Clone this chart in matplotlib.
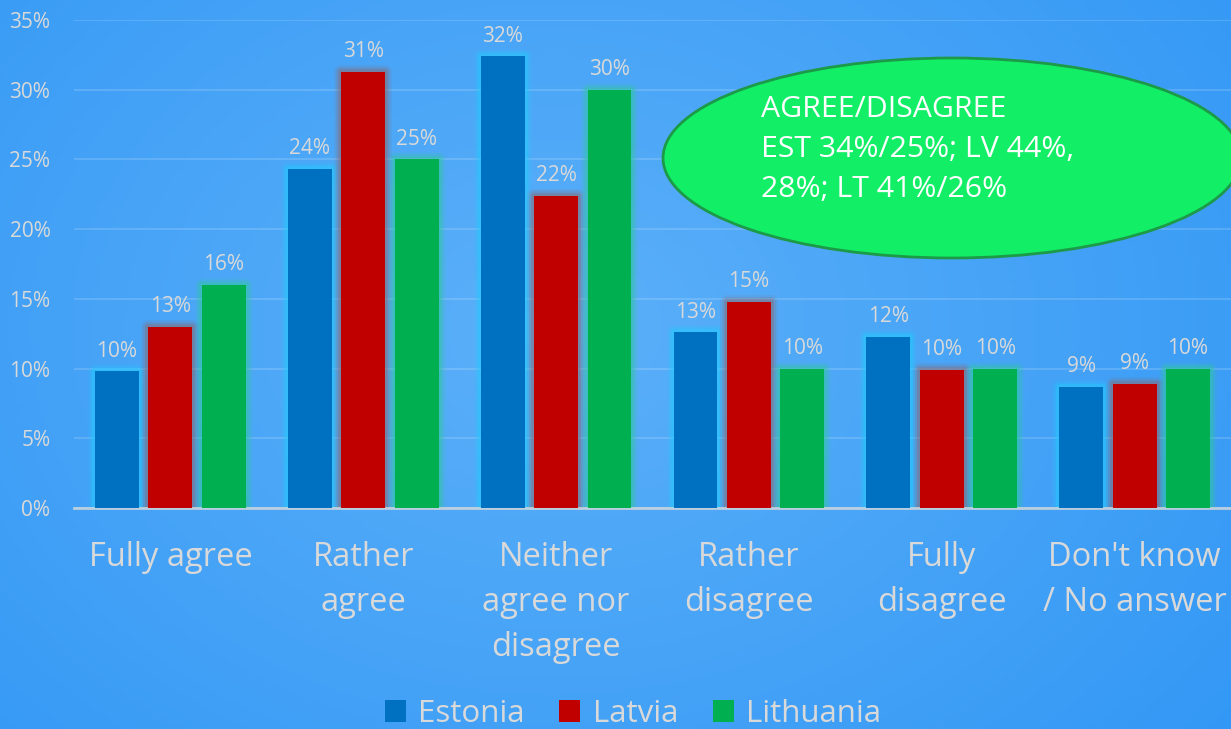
import numpy as np
import matplotlib
matplotlib.use('Agg')
import matplotlib.pyplot as plt
from matplotlib.patches import Ellipse

plt.rcParams['font.family'] = ['Open Sans', 'DejaVu Sans']

categories = ['Fully agree', 'Rather\nagree', 'Neither\nagree nor\ndisagree', 'Rather\ndisagree', 'Fully\ndisagree', "Don't know\n/ No answer"]
estonia = [9.8, 24.3, 32.4, 12.6, 12.3, 8.7]
latvia = [13.0, 31.3, 22.4, 14.8, 9.9, 8.9]
lithuania = [16.0, 25.0, 30.0, 10.0, 10.0, 10.0]
estonia_labels = ['10%', '24%', '32%', '13%', '12%', '9%']
latvia_labels = ['13%', '31%', '22%', '15%', '10%', '9%']
lithuania_labels = ['16%', '25%', '30%', '10%', '10%', '10%']
series = ['Estonia', 'Latvia', 'Lithuania']
colors = ['#0070C0', '#C00000', '#00B050']
glows = ['#22CCFF', '#8A6A70', '#30C8A0']
note = 'AGREE/DISAGREE\nEST 34%/25%; LV 44%,\n28%; LT 41%/26%'

fig = plt.figure(figsize=(12.31, 7.29), dpi=100)

# background gradient
bg = fig.add_axes([0, 0, 1, 1])
xx = np.linspace(0, 1, 300)
yy = np.linspace(0, 1, 200)
X, Y = np.meshgrid(xx, yy)
d = np.sqrt(((X - 0.45) / 0.7) ** 2 + ((Y - 0.55) / 0.9) ** 2)
c1 = np.array([0x5C, 0xB0, 0xF9]) / 255
c2 = np.array([0x33, 0x98, 0xF5]) / 255
t = np.clip(d, 0, 1)[..., None]
img = c1 * (1 - t) + c2 * t
bg.imshow(img, extent=[0, 1, 0, 1], aspect='auto', origin='lower')
bg.axis('off')

ax = fig.add_axes([74 / 1231, 1 - 508 / 729, (1231 - 74) / 1231, 488 / 729])
ax.patch.set_alpha(0)
x = np.arange(len(categories))
w = 0.228
off = 0.277
data = [estonia, latvia, lithuania]
labels = [estonia_labels, latvia_labels, lithuania_labels]

for i in range(3):
    pos = x + (i - 1) * off
    for lw, a in [(10, 0.12), (7, 0.2), (4, 0.4)]:
        ax.bar(pos, data[i], w, color='none', edgecolor=glows[i], linewidth=lw, alpha=a, joinstyle='round', zorder=2)
    bars = ax.bar(pos, data[i], w, color=colors[i], label=series[i], zorder=3)
    ax.bar_label(bars, labels=labels[i], padding=7, color='#D9D9D9', fontsize=15, zorder=4)

ax.set_xlim(-0.5, len(categories) - 0.5)
ax.set_ylim(0, 35)
ax.set_yticks(range(0, 36, 5))
ax.set_yticklabels([f'{v}%' for v in range(0, 36, 5)])
ax.set_xticks(x)
ax.set_xticklabels(categories, linespacing=1.47)
ax.tick_params(axis='y', length=0, labelsize=15, labelcolor='#D9D9D9', pad=17)
ax.tick_params(axis='x', length=0, labelsize=23.5, labelcolor='#D9D9D9', pad=24)
ax.grid(axis='y', color='white', alpha=0.18, linewidth=1.2, zorder=0)
ax.set_axisbelow(True)
for s in ['top', 'right', 'left']:
    ax.spines[s].set_visible(False)
ax.spines['bottom'].set_color('#D9D9D9')
ax.spines['bottom'].set_linewidth(2)
ax.spines['bottom'].set_alpha(0.8)

leg = fig.legend(loc='center', bbox_to_anchor=(633 / 1231, 1 - 714 / 729), ncol=3, frameon=False,
                 fontsize=22.5, handlelength=0.68, handleheight=0.68, handletextpad=0.4, columnspacing=1.1)
for txt in leg.get_texts():
    txt.set_color('#D9D9D9')

# ellipse note
ov = fig.add_axes([0, 0, 1, 1])
ov.set_xlim(0, 1231)
ov.set_ylim(729, 0)
ov.axis('off')
ov.patch.set_alpha(0)
ov.add_patch(Ellipse((952, 158), 578, 200, facecolor='#12EE66', edgecolor='#1C9A48', linewidth=2))
ov.text(761, 149, note, color='white', fontsize=21.8, va='center', ha='left', linespacing=1.5)

fig.savefig('out.png', dpi=100)
